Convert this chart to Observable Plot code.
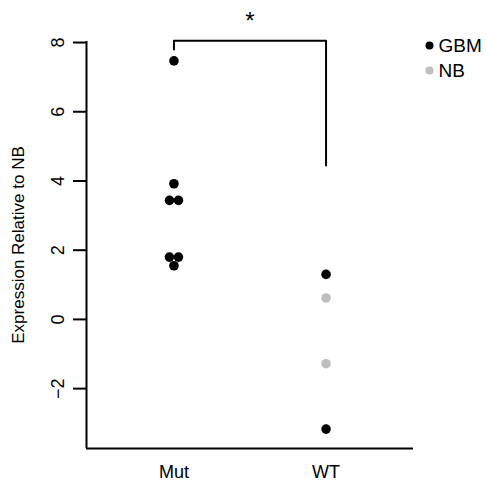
<!DOCTYPE html>
<html>
<head>
<meta charset="utf-8">
<script src="https://cdn.jsdelivr.net/npm/d3@7"></script>
<script src="https://cdn.jsdelivr.net/npm/@observablehq/plot@0.6"></script>
<style>
  html, body { margin: 0; padding: 0; background: #fff; }
  #chart svg { display: block; }
</style>
</head>
<body>
<div id="chart"></div>
<script>
// ---- data ----
const categories = ["Mut", "WT"];
const mutValues = [7.47, 3.92, 3.44, 3.44, 1.80, 1.80, 1.55];
const mutTypes  = ["GBM", "GBM", "GBM", "GBM", "GBM", "GBM", "GBM"];
const wtValues  = [1.30, 0.62, -1.28, -3.17];
const wtTypes   = ["GBM", "NB", "NB", "GBM"];
const yTicks = [-2, 0, 2, 4, 6, 8];
const legendLabels = ["GBM", "NB"];
const colors = {GBM: "#000000", NB: "#bebebe"};
const yLabel = "Expression Relative to NB";
const significance = "*";
const bracketLevels = {left: 7.8, top: 8.05, right: 4.45, star: 8.6};

// ---- layout ----
const W = 487, H = 485;
const mL = 86, mR = 74, mT = 41, mB = 37;
const xDomain = [0.425, 2.575];
const yDomain = [-3.73, 8.03];
const r = 4.8;
const font = "'Liberation Sans', Arial, Helvetica, sans-serif";

// build table
const points = [];
mutValues.forEach((v, i) => points.push({cat: 0, y: v, type: mutTypes[i]}));
wtValues.forEach((v, i) => points.push({cat: 1, y: v, type: wtTypes[i]}));

// spread coincident values side by side (like a beeswarm)
const pxPerX = (W - mL - mR) / (xDomain[1] - xDomain[0]);
const spacing = (2 * r - 0.6) / pxPerX;
d3.groups(points, d => d.cat + ":" + d.y.toFixed(2)).forEach(([, g]) => {
  g.forEach((d, k) => { d.x = d.cat + 1 + (k - (g.length - 1) / 2) * spacing; });
});

const bracket = [
  {x: 1, y: bracketLevels.left},
  {x: 1, y: bracketLevels.top},
  {x: 2, y: bracketLevels.top},
  {x: 2, y: bracketLevels.right}
];

const legendMarks = legendLabels.flatMap((lab, i) => [
  Plot.dot([lab], {frameAnchor: "top-right", dx: 16, dy: 4 + i * 25, r: 4, fill: colors[lab], stroke: null}),
  Plot.text([lab], {frameAnchor: "top-right", dx: 25, dy: 4 + i * 25, text: d => d, textAnchor: "start",
    fontSize: 19, fill: "#000", lineAnchor: "middle"})
]);

const plot = Plot.plot({
  width: W,
  height: H,
  marginLeft: mL, marginRight: mR, marginTop: mT, marginBottom: mB,
  style: {fontFamily: font, background: "#fff", overflow: "visible"},
  x: {domain: xDomain, axis: null},
  y: {domain: yDomain, axis: null},
  marks: [
    // axes lines (L-shaped box)
    Plot.ruleX([xDomain[0]], {stroke: "#000", strokeWidth: 2}),
    Plot.ruleY([yDomain[0]], {stroke: "#000", strokeWidth: 2}),
    // y ticks
    Plot.ruleY(yTicks, {y: d => d, x1: xDomain[0], x2: xDomain[0], insetLeft: -13, stroke: "#000", strokeWidth: 2}),
    Plot.text(yTicks, {y: d => d, frameAnchor: "left", dx: -28, rotate: -90, text: d => d < 0 ? "\u2212" + Math.abs(d) : String(d),
      fontSize: 18, fill: "#000", textAnchor: "middle", lineAnchor: "middle"}),
    // y label
    Plot.text([yLabel], {frameAnchor: "left", dx: -68, rotate: -90, text: d => d, fontSize: 17, fill: "#000",
      textAnchor: "middle", lineAnchor: "middle"}),
    // x labels
    Plot.text(categories, {x: (d, i) => i + 1, frameAnchor: "bottom", dy: 24, text: d => d, fontSize: 18, fill: "#000",
      lineAnchor: "middle"}),
    // significance bracket
    Plot.line(bracket, {x: "x", y: "y", stroke: "#000", strokeWidth: 2, curve: "linear"}),
    Plot.text([significance], {x: 1.5, y: bracketLevels.star, text: d => d, fontSize: 24, fill: "#000",
      lineAnchor: "middle"}),
    // points
    Plot.dot(points, {x: "x", y: "y", r, fill: d => colors[d.type], stroke: null}),
    ...legendMarks
  ]
});

document.getElementById("chart").appendChild(plot);
</script>
</body>
</html>
